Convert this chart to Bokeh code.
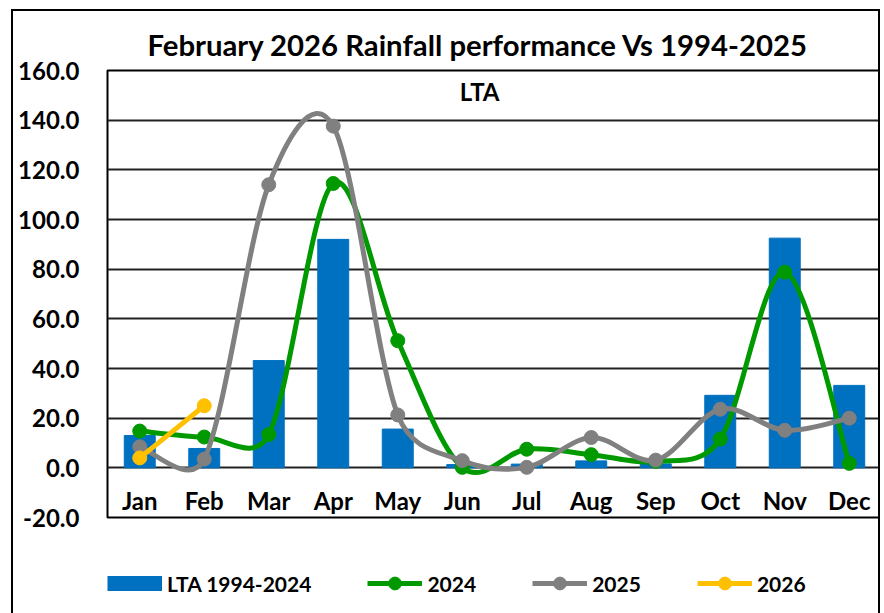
import numpy as np
from bokeh.plotting import figure
from bokeh.layouts import column
from bokeh.models import (FactorRange, Range1d, FixedTicker, PrintfTickFormatter,
                          Legend, LegendItem, Label, ColumnDataSource)
from bokeh.embed import file_html
from bokeh.resources import INLINE

# ---------------- data ----------------
months = ["Jan", "Feb", "Mar", "Apr", "May", "Jun", "Jul", "Aug", "Sep", "Oct", "Nov", "Dec"]
lta_1994_2024 = [13.0, 7.8, 43.2, 92.0, 15.6, 1.3, 1.5, 2.8, 1.6, 29.2, 92.5, 33.2]
rain_2024 = [14.8, 12.4, 13.4, 114.5, 51.2, 0.2, 7.5, 5.3, 2.6, 11.6, 78.8, 1.8]
rain_2025 = [8.5, 3.5, 114.0, 137.6, 21.3, 2.9, 0.2, 12.2, 3.1, 23.6, 15.1, 20.0]
rain_2026 = [4.0, 25.0]
y_ticks = [-20, 0, 20, 40, 60, 80, 100, 120, 140, 160]

title_text = "February 2026 Rainfall performance Vs 1994-2025"
subtitle_text = "LTA"
legend_labels = ["LTA 1994-2024", "2024", "2025", "2026"]

FONT = "Lato"
BLUE = "#0070C0"
GREEN = "#009A00"
GRAY = "#808080"
YELLOW = "#FFC000"
BORDER = "2px solid #000000"

W = 869                     # element width incl. 2px css borders left/right
ML, MR, MT, MB = 94, 1, 59, 16
FRAME_H = 445
H1 = 2 + MT + FRAME_H + MB  # main figure height incl. top border
H2 = 613 - 9 - H1           # legend strip height
frame_w = (W - 4) - ML - MR
PX_X = frame_w / len(months)
PX_Y = FRAME_H / (y_ticks[-1] - y_ticks[0])


def smooth(vals):
    """Excel-like smoothed line: cubic Bezier pieces (Catmull-Rom tangents, clipped)."""
    n = len(vals)
    P = np.column_stack([(np.arange(n) + 0.5) * PX_X, np.array(vals, float) * PX_Y])
    out = {k: [] for k in ("x0", "y0", "x1", "y1", "cx0", "cy0", "cx1", "cy1")}
    for i in range(n - 1):
        p0 = P[max(i - 1, 0)]
        p1 = P[i]
        p2 = P[i + 1]
        p3 = P[min(i + 2, n - 1)]
        seg = np.linalg.norm(p2 - p1)
        t1 = (p2 - p0) / 6.0
        t2 = (p3 - p1) / 6.0
        lim = 0.5 * seg
        for t in (t1, t2):
            L = np.linalg.norm(t)
            if L > lim and L > 0:
                t *= lim / L
        c1 = p1 + t1
        c2 = p2 - t2
        out["x0"].append(p1[0] / PX_X); out["y0"].append(p1[1] / PX_Y)
        out["x1"].append(p2[0] / PX_X); out["y1"].append(p2[1] / PX_Y)
        out["cx0"].append(c1[0] / PX_X); out["cy0"].append(c1[1] / PX_Y)
        out["cx1"].append(c2[0] / PX_X); out["cy1"].append(c2[1] / PX_Y)
    return ColumnDataSource(out)


p = figure(x_range=FactorRange(*months), y_range=Range1d(y_ticks[0], y_ticks[-1]),
           width=W, height=H1, output_backend="svg", toolbar_location=None,
           min_border_left=ML, min_border_right=MR, min_border_top=MT, min_border_bottom=MB,
           background_fill_color="white", border_fill_color="white")
p.styles = {"border-left": BORDER, "border-top": BORDER, "border-right": BORDER}

p.outline_line_color = "black"
p.outline_line_width = 2

# title
p.title.text = title_text
p.title.align = "left"
p.title.offset = 40
p.title.standoff = 18
p.title.text_font = FONT
p.title.text_font_style = "bold"
p.title.text_font_size = "29.3px"
p.title.text_color = "black"

# axes
p.yaxis.ticker = FixedTicker(ticks=y_ticks)
p.yaxis.formatter = PrintfTickFormatter(format="%.1f")
p.yaxis.axis_line_color = None
p.yaxis.major_tick_line_color = None
p.yaxis.minor_tick_line_color = None
p.yaxis.major_tick_out = 0
p.yaxis.major_tick_in = 0
p.yaxis.major_label_standoff = 28
p.yaxis.major_label_text_font = FONT
p.yaxis.major_label_text_font_style = "bold"
p.yaxis.major_label_text_font_size = "24px"
p.yaxis.major_label_text_color = "black"

p.xaxis.axis_line_color = None
p.xaxis.major_tick_line_color = None
p.xaxis.major_tick_out = 0
p.xaxis.major_tick_in = 0
p.xaxis.major_label_standoff = -32
p.xaxis.major_label_text_font = FONT
p.xaxis.major_label_text_font_style = "bold"
p.xaxis.major_label_text_font_size = "24px"
p.xaxis.major_label_text_color = "black"

p.xgrid.grid_line_color = None
p.ygrid.ticker = FixedTicker(ticks=y_ticks)
p.ygrid.grid_line_color = "#222222"
p.ygrid.grid_line_width = 2

# bars
p.vbar(x=months, top=lta_1994_2024, width=0.48, fill_color=BLUE, line_color=BLUE)

# smoothed lines with markers
for vals, col in ((rain_2024, GREEN), (rain_2025, GRAY), (rain_2026, YELLOW)):
    p.bezier(x0="x0", y0="y0", x1="x1", y1="y1", cx0="cx0", cy0="cy0",
             cx1="cx1", cy1="cy1", source=smooth(vals), line_color=col, line_width=5)
    p.scatter(x=months[:len(vals)], y=vals, size=14, fill_color=col, line_color=col)

p.add_layout(Label(x=5.77, y=151.6, text=subtitle_text, text_align="center",
                   text_baseline="alphabetic", text_font=FONT, text_font_style="bold",
                   text_font_size="24px", text_color="black"))

# ---------------- legend strip ----------------
lg = figure(width=W, height=H2, output_backend="svg", toolbar_location=None,
            x_range=Range1d(0, 1), y_range=Range1d(0, 1),
            x_axis_type=None, y_axis_type=None,
            min_border_left=ML, min_border_right=0, min_border_top=0, min_border_bottom=14,
            background_fill_color="white", border_fill_color="white")
lg.styles = {"border-left": BORDER, "border-right": BORDER}
lg.outline_line_color = None
lg.xgrid.grid_line_color = None
lg.ygrid.grid_line_color = None

nan2 = [np.nan, np.nan]
k_bar = lg.line(x=nan2, y=nan2, line_color=BLUE, line_width=15, line_cap="butt")
items = [LegendItem(label=legend_labels[0], renderers=[k_bar])]
for lab, col in zip(legend_labels[1:], (GREEN, GRAY, YELLOW)):
    kl = lg.line(x=nan2, y=nan2, line_color=col, line_width=5)
    km = lg.scatter(x=nan2, y=nan2, size=14, fill_color=col, line_color=col)
    items.append(LegendItem(label=lab, renderers=[kl, km]))

legend = Legend(items=items, orientation="horizontal", location="bottom_left",
                glyph_width=55, glyph_height=32, label_standoff=5, spacing=56,
                padding=0, margin=0, border_line_color=None, background_fill_alpha=0,
                label_text_font=FONT, label_text_font_style="bold",
                label_text_font_size="21px", label_text_color="black")
lg.add_layout(legend)

layout = column(p, lg, spacing=0, styles={"margin-left": "11px", "margin-top": "9px"})

open("out.html", "w").write(file_html(layout, INLINE))
